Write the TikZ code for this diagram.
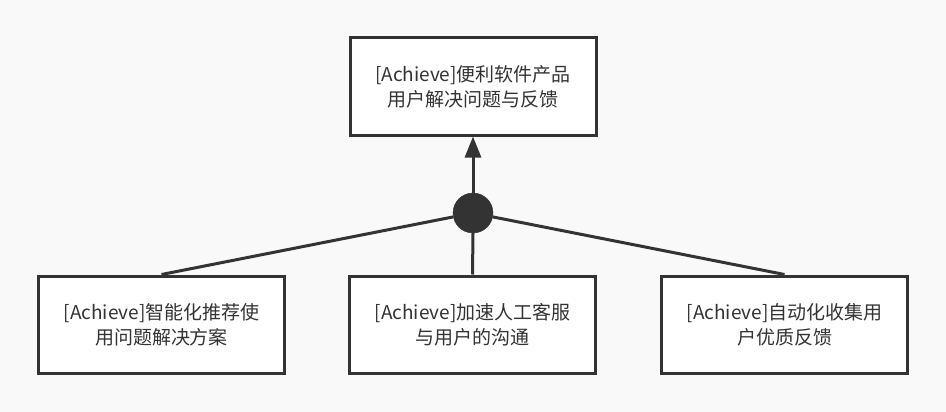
\documentclass[tikz,border=0pt]{standalone}
\usepackage{fontspec}
\setmainfont{Noto Sans CJK SC}
\usetikzlibrary{arrows.meta}
\definecolor{ink}{HTML}{333333}
\definecolor{paper}{HTML}{F9F9F9}
\tikzset{
  goal/.style={draw=ink, line width=3pt, fill=white, text=ink,
    minimum width=246pt, minimum height=97pt, inner sep=0pt,
    align=center, font=\fontsize{19pt}{25pt}\selectfont},
  andnode/.style={circle, fill=ink, draw=ink, minimum size=40pt, inner sep=0pt},
  link/.style={draw=ink, line width=3pt},
}
\begin{document}
\begin{tikzpicture}[x=1pt,y=-1pt]
  \fill[paper] (0,0) rectangle (946,412);
  \useasboundingbox (0,0) rectangle (946,412);

  \node[goal] (top) at (473,86.5) {[Achieve]便利软件产品\\用户解决问题与反馈};
  \node[andnode] (and) at (473,213) {};
  \node[goal] (left) at (161.5,324.5) {[Achieve]智能化推荐使\\用问题解决方案};
  \node[goal] (mid) at (472.5,324.5) {[Achieve]加速人工客服\\与用户的沟通};
  \node[goal] (right) at (784.5,324.5) {[Achieve]自动化收集用\\户优质反馈};

  \draw[link, -{Triangle[length=21pt,width=16pt]}] (and.north) -- (top.south);
  \draw[link] (and) -- (left.north);
  \draw[link] (and.south) -- (mid.north);
  \draw[link] (and) -- (right.north);
\end{tikzpicture}
\end{document}
